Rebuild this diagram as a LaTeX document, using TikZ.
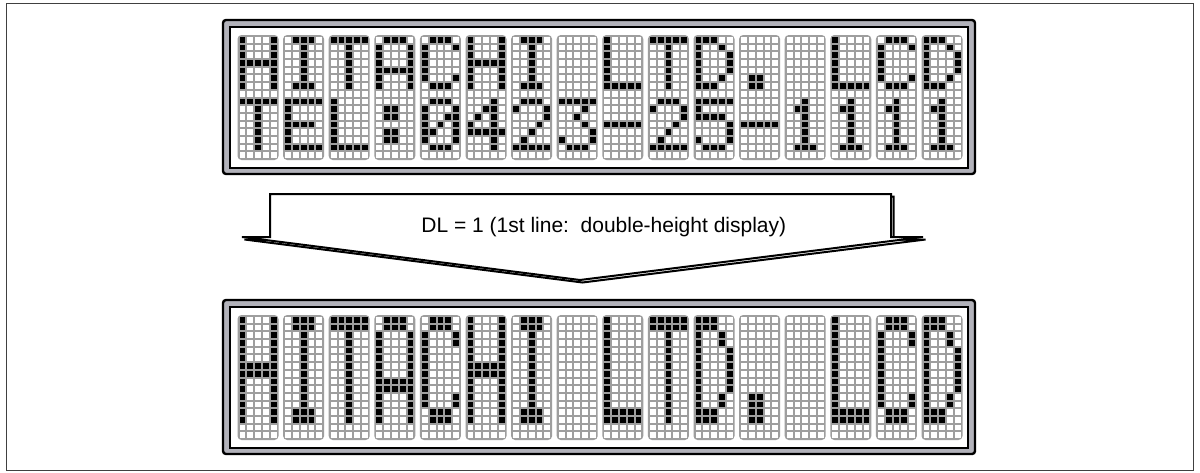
\documentclass[tikz,border=0pt]{standalone}
\usepackage{fontspec}
\setmainfont{Liberation Sans}
\definecolor{panelgray}{RGB}{178,178,186}
\definecolor{gridgray}{RGB}{158,158,158}
\newcommand\defchar[2]{\expandafter\def\csname ch#1\endcsname{#2}}
\defchar{H}{17,17,17,31,17,17,17}
\defchar{I}{14,4,4,4,4,4,14}
\defchar{T}{31,4,4,4,4,4,4}
\defchar{A}{14,17,17,17,31,17,17}
\defchar{C}{14,17,16,16,16,17,14}
\defchar{L}{16,16,16,16,16,16,31}
\defchar{D}{28,18,17,17,17,18,28}
\defchar{Dot}{0,0,0,0,0,12,12}
\defchar{Sp}{0,0,0,0,0,0,0}
\defchar{E}{31,16,16,30,16,16,31}
\defchar{Col}{0,12,12,0,12,12,0}
\defchar{0}{14,17,19,21,25,17,14}
\defchar{4}{2,6,10,18,31,2,2}
\defchar{2}{14,17,1,2,4,8,31}
\defchar{3}{31,2,4,2,1,17,14}
\defchar{Dash}{0,0,0,31,0,0,0}
\defchar{5}{31,16,30,1,1,17,14}
\defchar{1}{4,12,4,4,4,4,14}
\def\gp{2.0}
\def\pc{7.8}
\def\pr{7.6875}
\def\dw{5.8}
\def\dh{5.6875}
\newcommand\drawcell[2]{%
  \fill[gridgray, rounded corners=2] (#1,#2) rectangle ++(41,125);
  \foreach \c in {0,...,4}{\foreach \r in {0,...,15}{
    \fill[white] ({#1+\gp+\c*\pc},{#2+\gp+\r*\pr}) rectangle ++(\dw,\dh);}}%
}
\newcommand\drawchar[5]{%
  \expandafter\let\expandafter\rowlist\csname ch#3\endcsname
  \foreach \v [count=\r from 0] in \rowlist {%
    \foreach \c in {0,...,4}{%
      \pgfmathtruncatemacro\bit{mod(floor(\v/(2^(4-\c))),2)}%
      \ifnum\bit=1
        \foreach \k in {1,...,#5}{%
          \fill[black] ({#1+\gp+\c*\pc},{#2+\gp+(#4+#5*\r+\k-1)*\pr}) rectangle ++(\dw,\dh);}%
      \fi
    }}%
}
\tikzset{
  frameline/.style={black!75, line width=0.5pt},
  arrowline/.style={black, line width=1pt, line join=miter},
  lbl/.style={font=\fontsize{10.5}{12}\selectfont, inner sep=0pt}
}
\begin{document}
\begin{tikzpicture}[x=0.5pt,y=-0.5pt]
\useasboundingbox (0,0) rectangle (1200,472);
\draw[frameline] (6,3) rectangle (1193,470);
% panels
\foreach \py in {0,280}{
  \filldraw[fill=panelgray, line width=1.2pt, rounded corners=1.5] (223,20+\py) rectangle (975,174+\py);
  \filldraw[fill=white, line width=1pt] (229.5,26.5+\py) rectangle (968,167.5+\py);
}
% top panel: two lines
\foreach \a/\b [count=\i from 0] in {H/T,I/E,T/L,A/Col,C/0,H/4,I/2,Sp/3,L/Dash,T/2,D/5,Dot/Dash,Sp/1,L/1,C/1,D/1}{
  \pgfmathsetmacro\xo{237.5+45.6*\i}
  \drawcell{\xo}{35}
  \drawchar{\xo}{35}{\a}{0}{1}
  \drawchar{\xo}{35}{\b}{8}{1}
}
% bottom panel: double height
\foreach \a [count=\i from 0] in {H,I,T,A,C,H,I,Sp,L,T,D,Dot,Sp,L,C,D}{
  \pgfmathsetmacro\xo{237.5+45.6*\i}
  \drawcell{\xo}{315}
  \drawchar{\xo}{315}{\a}{0}{2}
}
% arrow shape
\draw[arrowline, shift={(2.5,2.5)}] (270,194) -- (891,194) -- (891,237) -- (923,237) -- (580,280) -- (242,237) -- (270,237) -- cycle;
\filldraw[arrowline, fill=white] (270,194) -- (891,194) -- (891,237) -- (923,237) -- (580,280) -- (242,237) -- (270,237) -- cycle;
\node[lbl, anchor=base west] (dl) at (421,232.5) {\frenchspacing DL = 1 (1st line:~\ double-height display)};
\end{tikzpicture}
\end{document}
